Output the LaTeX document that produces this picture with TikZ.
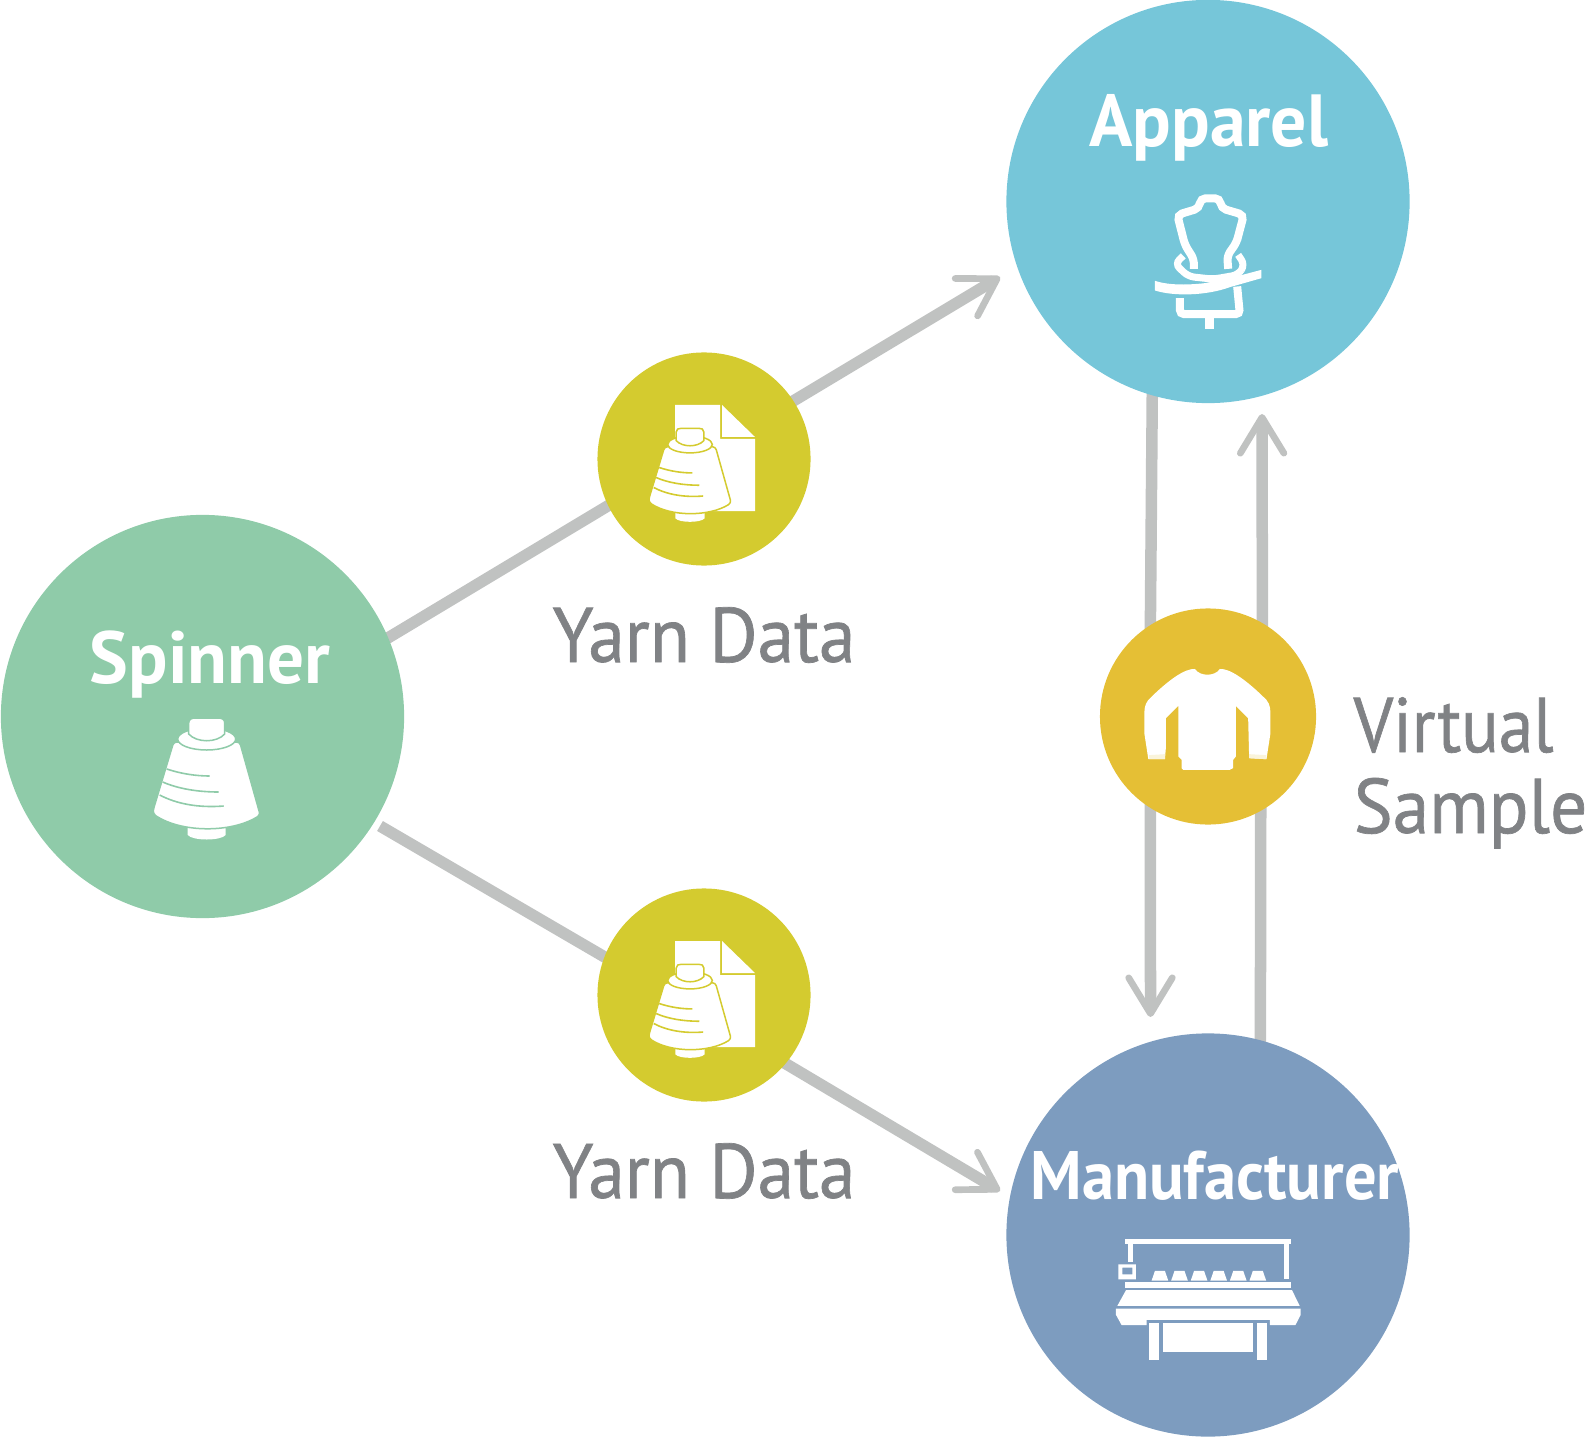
\documentclass[tikz,border=0pt]{standalone}
\usepackage{fontspec}
\setmainfont{PT Sans}
\usetikzlibrary{arrows.meta,backgrounds}
\definecolor{flowSpinner}{HTML}{8FCBA9}
\definecolor{flowApparel}{HTML}{76C6D9}
\definecolor{flowMaker}{HTML}{7D9CBF}
\definecolor{flowYarn}{HTML}{D4CB2F}
\definecolor{flowSample}{HTML}{E5BF35}
\definecolor{flowLink}{HTML}{C0C2C1}
\definecolor{flowText}{HTML}{808285}
\tikzset{
    hub/.style={circle, inner sep=0pt, minimum size=4.03cm},
    subhub/.style={circle, inner sep=0pt, minimum size=2.13cm},
    titletext/.style={font=\bfseries\fontsize{21}{24}\selectfont, text=white, anchor=base, inner sep=0pt, transform shape},
    sidetext/.style={font=\fontsize{22}{24}\selectfont\addfontfeature{FakeBold=0.9}, text=flowText, anchor=base, inner sep=0pt, transform shape},
    link/.style={draw=flowLink, line width=0.115cm},
    linkhead/.style={link, -{Straight Barb[length=10.2pt, width=12.4pt, line width=1.9pt, round]}},
    fine/.style={x=0.003333cm, y=-0.003333cm},
    pics/spool/.style={code={
        \fill[white] (-19,48) -- (19,48) -- (19,55) .. controls (14,61) and (-14,61) .. (-19,55) -- cycle;
        \fill[white, draw=#1, line width=0.015cm, rounded corners=0.03cm] (-33,-38) -- (-53.5,30) -- (-53.5,34) .. controls (-25,53) and (25,53) .. (53.5,35) -- (33,-38) -- cycle;
        \fill[white, draw=#1, line width=0.015cm] (0,-41) ellipse [x radius=29, y radius=11];
        \fill[white, draw=#1, line width=0.015cm] (-18,-46) -- (-18,-57) .. controls (-18,-61) and (-15,-62) .. (-11,-62) -- (11,-62) .. controls (15,-62) and (18,-61) .. (18,-57) -- (18,-46) .. controls (10,-37) and (-10,-37) .. (-18,-46) -- cycle;
        \draw[#1, line width=0.016cm] (-40,-11) .. controls (-25,-6) and (-10,-4) .. (3,-4);
        \draw[#1, line width=0.016cm] (-44,2) .. controls (-28,9) and (-8,12) .. (12,12);
        \draw[#1, line width=0.016cm] (-47,15) .. controls (-30,24) and (-8,28) .. (17,26);
    }},
    pics/yarnsheet/.style={code={
        \fill[white] (-29,-54) -- (16,-54) -- (16,-20) -- (51,-20) -- (51,52) -- (-29,52) -- cycle;
        \fill[white] (18,-54) -- (51,-22) -- (18,-22) -- cycle;
        \pic[scale=0.77] at (-14,17) {spool=flowYarn};
    }},
    pics/dressform/.style={code={
        \begin{scope}[fine]
        \draw[white, line width=0.08cm, rounded corners=0.05cm] (192,297) -- (192,268) -- (165,225) -- (156,190) -- (142,135) -- (208,115) -- (212,85) -- (270,85) -- (274,115) -- (342,135) -- (326,195) -- (320,218) -- (292,258) -- (295,297);
        \draw[white, line width=0.07cm, rounded corners=0.06cm] (160,258) -- (135,282) -- (175,320) -- (250,328) -- (325,315) -- (345,285) -- (325,255);
        \fill[white] (75,333) .. controls (120,348) and (180,345) .. (225,340) -- (300,325) -- (395,300) -- (395,325) -- (300,352) .. controls (230,378) and (130,380) .. (75,362) -- cycle;
        \draw[white, line width=0.08cm, rounded corners=0.04cm] (150,385) -- (150,433) -- (330,433) -- (322,350);
        \fill[white] (226,438) rectangle (252,477);
        \end{scope}
    }},
    pics/sweater/.style={code={
        \begin{scope}[fine]
        \fill[white] (195,57) .. controls (210,80) and (255,80) .. (270,57) .. controls (300,55) and (350,90) .. (410,150) .. controls (422,165) and (422,180) .. (422,200) -- (422,250) -- (410,328) -- (358,325) -- (355,205) -- (318,168) -- (318,320) -- (310,330) -- (310,355) -- (300,360) -- (160,360) -- (155,355) -- (155,330) -- (145,320) -- (145,168) -- (108,205) -- (108,290) -- (105,328) -- (55,328) -- (43,250) -- (43,200) .. controls (43,180) and (43,165) .. (55,150) .. controls (115,90) and (165,55) .. cycle;
        \fill[flowSample!18!white] (57,316) -- (105,313) -- (105,328) -- (58,328) -- cycle;
        \fill[flowSample!18!white] (358,313) -- (410,316) -- (408,328) -- (358,325) -- cycle;
        \end{scope}
    }},
    pics/knitter/.style={code={
        \begin{scope}[fine]
        \fill[white] (75,57) rectangle (575,72);
        \fill[white] (85,72) rectangle (100,127);
        \fill[white] (553,72) rectangle (567,177);
        \fill[white, even odd rule] (55,133) rectangle (108,178) (67,143) rectangle (97,163);
        \foreach \i in {0,...,5} {
            \fill[white, xshift={\i*0.1957cm}] (155,182) -- (165,153) -- (195,153) -- (205,182) -- cycle;
        }
        \fill[white] (75,187) rectangle (575,203);
        \fill[white] (78,211) -- (577,211) -- (600,258) -- (52,258) -- cycle;
        \fill[white] (48,266) -- (603,266) -- (603,285) -- (587,316) -- (510,316) -- (510,300) -- (140,300) -- (140,316) -- (65,316) -- (48,285) -- cycle;
        \fill[white] (148,308) rectangle (177,421);
        \fill[white] (472,308) rectangle (502,421);
        \fill[white] (190,308) rectangle (461,397);
        \end{scope}
    }}
}
\begin{document}
\begin{tikzpicture}[x=0.01cm, y=-0.01cm]
    \useasboundingbox (0,0) rectangle (1589,1437);

    \node[hub, fill=flowSpinner] (spinner) at (202.5,716.5) {};
    \node[hub, fill=flowApparel] (apparel) at (1208,201.5) {};
    \node[hub, fill=flowMaker] (maker) at (1208,1235) {};
    \node[subhub, fill=flowYarn] (yarnTop) at (704,459) {};
    \node[subhub, fill=flowYarn] (yarnLow) at (704,995) {};
    \node[subhub, fill=flowSample, minimum size=2.16cm] (sample) at (1208,716.5) {};

    \coordinate (apparelIn) at (1000,277);
    \coordinate (makerIn) at (1000,1191);
    \coordinate (makerDown) at (1150.5,1017);
    \coordinate (apparelUp) at (1262,414);
    \coordinate (lowStart) at (380,826);

    % links run underneath the circles
    \begin{scope}[on background layer]
        \draw[link, shorten <=-0.03cm, shorten >=-0.08cm] (spinner.23) -- (yarnTop.206.6);
        \draw[linkhead, shorten <=-0.08cm] (yarnTop.33.7) -- (apparelIn);
        \draw[link, shorten >=-0.08cm] (lowStart) -- (yarnLow.159);
        \draw[linkhead, shorten <=-0.08cm] (yarnLow.-40.4) -- (makerIn);
        \draw[link, shorten <=-0.05cm, shorten >=-0.05cm] (apparel.254) -- (sample.122);
        \draw[linkhead, shorten <=-0.05cm] (sample.238) -- (makerDown);
        \draw[link, shorten <=-0.05cm, shorten >=-0.05cm] (maker.75) -- (sample.-61);
        \draw[linkhead, shorten <=-0.05cm] (sample.60) -- (apparelUp);
    \end{scope}

    \node[titletext, xscale=0.99] (spinnerText) at (210,683) {Spinner};
    \node[titletext, xscale=0.97] (apparelText) at (1209,147) {Apparel};
    \node[titletext, xscale=0.94, font=\bfseries\fontsize{19.5}{24}\selectfont] (makerText) at (1215,1199) {Manufacturer};
    \node[sidetext, xscale=0.95] (yarnTopText) at (704,662) {Yarn Data};
    \node[sidetext, xscale=0.95] (yarnLowText) at (704,1198) {Yarn Data};
    \node[sidetext, xscale=0.9, anchor=base west] (virtualText) at (1353,752) {Virtual};
    \node[sidetext, xscale=0.95, anchor=base west] (sampleText) at (1353,833) {Sample};

    \pic at (206.7,780) {spool=flowSpinner};
    \pic at (704,459) {yarnsheet};
    \pic at (704,995) {yarnsheet};
    \pic at (1130,170) {dressform};
    \pic at (1130,650) {sweater};
    \pic at (1100,1220) {knitter};
\end{tikzpicture}
\end{document}
